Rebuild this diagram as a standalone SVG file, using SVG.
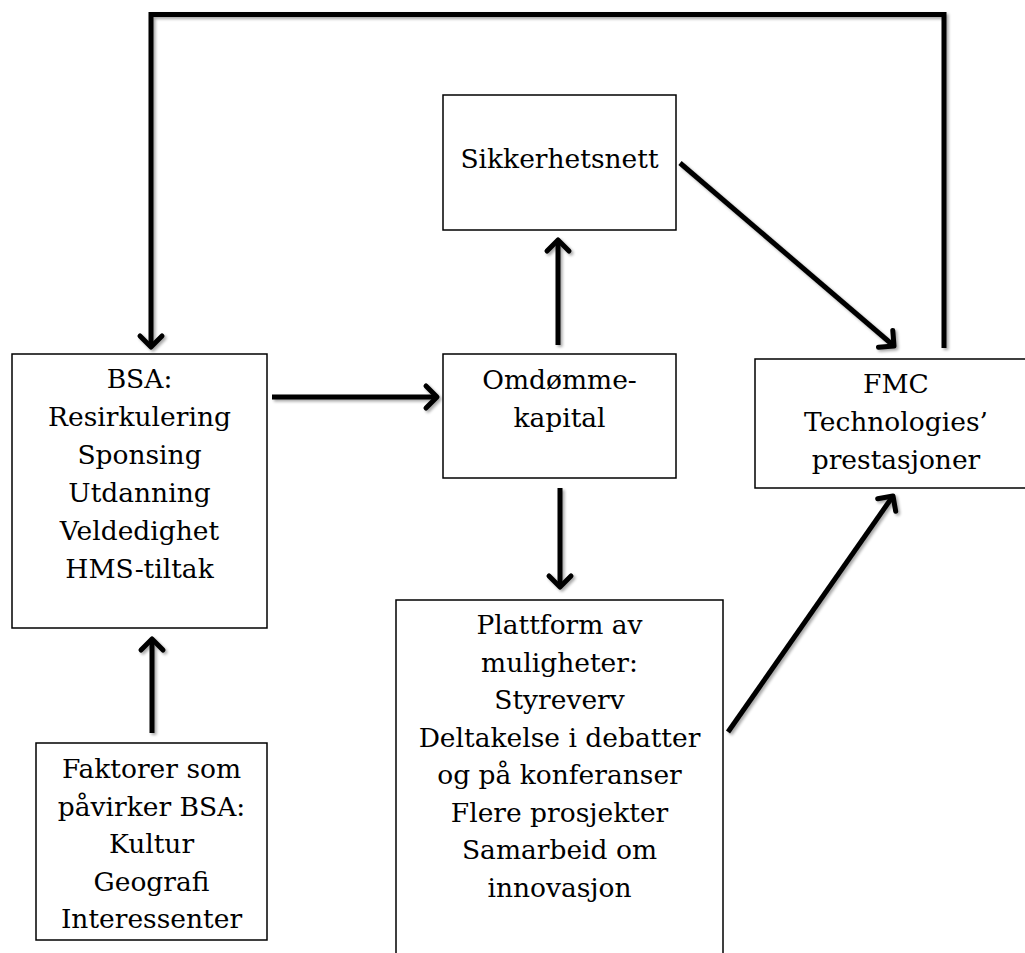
<svg xmlns="http://www.w3.org/2000/svg" width="1025" height="953" viewBox="0 0 1025 953">
  <style>
    .box { fill: #ffffff; stroke: #000000; stroke-width: 1.5; }
    .lbl { font-family: "DejaVu Serif", "Liberation Serif", serif; font-size: 26.5px; fill: #000000; text-anchor: middle; }
    .conn { fill: none; stroke: #000000; stroke-width: 5; stroke-linecap: butt; stroke-linejoin: miter; }
  </style>
  <defs>
    <marker id="arrow" markerUnits="userSpaceOnUse" markerWidth="30" markerHeight="30" viewBox="-15 -15 30 30" refX="0" refY="0" orient="auto" overflow="visible">
      <path d="M -11 -11 L 0 0 L -11 11" fill="none" stroke="#000000" stroke-width="5" stroke-linecap="round" stroke-linejoin="round"/>
    </marker>
    <filter id="shadow" x="-20%" y="-20%" width="140%" height="140%">
      <feGaussianBlur in="SourceAlpha" stdDeviation="1.5"/>
      <feOffset dx="1.5" dy="2" result="b"/>
      <feComponentTransfer><feFuncA type="linear" slope="0.35"/></feComponentTransfer>
      <feMerge><feMergeNode/><feMergeNode in="SourceGraphic"/></feMerge>
    </filter>
  </defs>
  <rect width="1025" height="953" fill="#ffffff"/>

  <g id="connectors" filter="url(#shadow)">
    <path class="conn" d="M 944 348 L 944 14.5 L 151 14.5 L 151 347" stroke-width="5.5" marker-end="url(#arrow)"/>
    <path class="conn" d="M 272 397 L 437 397" marker-end="url(#arrow)"/>
    <path class="conn" d="M 558 345 L 558 240" marker-end="url(#arrow)"/>
    <path class="conn" d="M 680 163 L 894 346" marker-end="url(#arrow)"/>
    <path class="conn" d="M 560 488 L 560 587" marker-end="url(#arrow)"/>
    <path class="conn" d="M 728 732 L 893 496" marker-end="url(#arrow)"/>
    <path class="conn" d="M 152 733 L 152 639" marker-end="url(#arrow)"/>
  </g>

  <g id="sikkerhetsnett">
    <rect class="box" x="443" y="95" width="233" height="135"/>
    <text class="lbl" x="559.5" y="168">Sikkerhetsnett</text>
  </g>

  <g id="omdomme">
    <rect class="box" x="443" y="354" width="233" height="124"/>
    <text class="lbl" x="559.5" y="389">Omdømme-</text>
    <text class="lbl" x="559.5" y="427">kapital</text>
  </g>

  <g id="bsa">
    <rect class="box" x="12" y="354" width="255" height="274"/>
    <text class="lbl" x="139.5" y="388">BSA:</text>
    <text class="lbl" x="139.5" y="426">Resirkulering</text>
    <text class="lbl" x="139.5" y="464">Sponsing</text>
    <text class="lbl" x="139.5" y="502">Utdanning</text>
    <text class="lbl" x="139.5" y="540">Veldedighet</text>
    <text class="lbl" x="139.5" y="578">HMS-tiltak</text>
  </g>

  <g id="faktorer">
    <rect class="box" x="36" y="743" width="231" height="197"/>
    <text class="lbl" x="151.5" y="778">Faktorer som</text>
    <text class="lbl" x="151.5" y="815.5">påvirker BSA:</text>
    <text class="lbl" x="151.5" y="853">Kultur</text>
    <text class="lbl" x="151.5" y="890.5">Geografi</text>
    <text class="lbl" x="151.5" y="928">Interessenter</text>
  </g>

  <g id="fmc">
    <rect class="box" x="755" y="359" width="282" height="129"/>
    <text class="lbl" x="896" y="393">FMC</text>
    <text class="lbl" x="896" y="431">Technologies’</text>
    <text class="lbl" x="896" y="469">prestasjoner</text>
  </g>

  <g id="plattform">
    <rect class="box" x="396" y="600" width="327" height="365"/>
    <text class="lbl" x="559.5" y="634">Plattform av</text>
    <text class="lbl" x="559.5" y="671.5">muligheter:</text>
    <text class="lbl" x="559.5" y="709">Styreverv</text>
    <text class="lbl" x="559.5" y="746.5">Deltakelse i debatter</text>
    <text class="lbl" x="559.5" y="784">og på konferanser</text>
    <text class="lbl" x="559.5" y="821.5">Flere prosjekter</text>
    <text class="lbl" x="559.5" y="859">Samarbeid om</text>
    <text class="lbl" x="559.5" y="896.5">innovasjon</text>
  </g>
</svg>
